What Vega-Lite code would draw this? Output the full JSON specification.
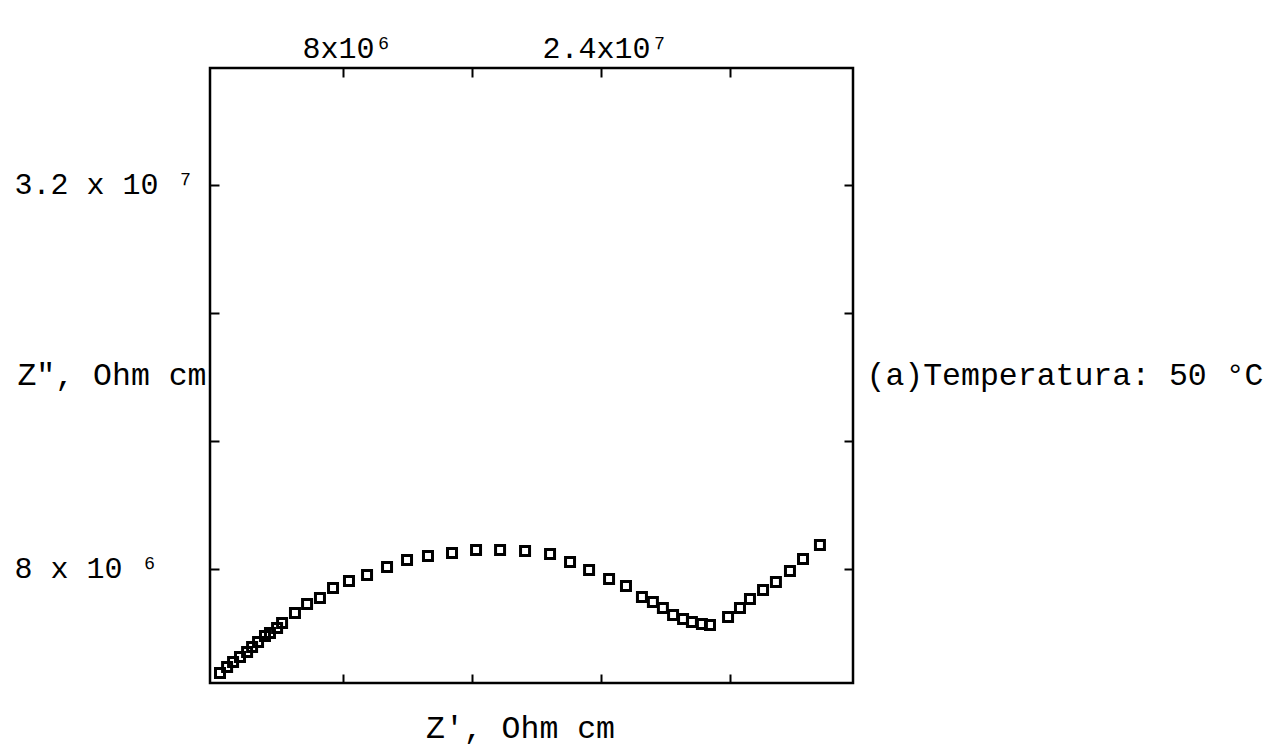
{
  "$schema": "https://vega.github.io/schema/vega-lite/v6.json",
  "width": 643,
  "height": 615,
  "autosize": {"type": "none"},
  "padding": {"left": 210, "top": 68, "right": 417, "bottom": 68},
  "background": "white",
  "config": {
    "font": "Liberation Mono",
    "view": {"stroke": "black", "strokeWidth": 2.5},
    "axis": {
      "domain": false,
      "grid": false,
      "tickColor": "black",
      "tickWidth": 2,
      "tickSize": -9,
      "labelFont": "Liberation Mono",
      "labelFontSize": 30,
      "labelColor": "black",
      "labelLimit": 400,
      "titleFont": "Liberation Mono",
      "titleFontSize": 31.5,
      "titleFontWeight": "normal",
      "titleColor": "black",
      "titleLimit": 600
    }
  },
  "data": {
    "values": [
      {"zr": 370000, "zi": 1500000},
      {"zr": 810000, "zi": 1880000},
      {"zr": 1180000, "zi": 2190000},
      {"zr": 1610000, "zi": 2500000},
      {"zr": 2050000, "zi": 2810000},
      {"zr": 2360000, "zi": 3130000},
      {"zr": 2730000, "zi": 3440000},
      {"zr": 3160000, "zi": 3810000},
      {"zr": 3470000, "zi": 4000000},
      {"zr": 3910000, "zi": 4310000},
      {"zr": 4220000, "zi": 4630000},
      {"zr": 5020000, "zi": 5250000},
      {"zr": 5770000, "zi": 5810000},
      {"zr": 6570000, "zi": 6190000},
      {"zr": 7380000, "zi": 6810000},
      {"zr": 8370000, "zi": 7250000},
      {"zr": 9490000, "zi": 7630000},
      {"zr": 10730000, "zi": 8130000},
      {"zr": 11970000, "zi": 8560000},
      {"zr": 13270000, "zi": 8810000},
      {"zr": 14760000, "zi": 9000000},
      {"zr": 16250000, "zi": 9190000},
      {"zr": 17740000, "zi": 9190000},
      {"zr": 19290000, "zi": 9130000},
      {"zr": 20840000, "zi": 8940000},
      {"zr": 22080000, "zi": 8440000},
      {"zr": 23260000, "zi": 7940000},
      {"zr": 24500000, "zi": 7380000},
      {"zr": 25550000, "zi": 6940000},
      {"zr": 26540000, "zi": 6250000},
      {"zr": 27220000, "zi": 5940000},
      {"zr": 27840000, "zi": 5560000},
      {"zr": 28470000, "zi": 5130000},
      {"zr": 29090000, "zi": 4880000},
      {"zr": 29640000, "zi": 4690000},
      {"zr": 30260000, "zi": 4560000},
      {"zr": 30760000, "zi": 4500000},
      {"zr": 31880000, "zi": 5000000},
      {"zr": 32620000, "zi": 5560000},
      {"zr": 33240000, "zi": 6130000},
      {"zr": 34050000, "zi": 6690000},
      {"zr": 34850000, "zi": 7190000},
      {"zr": 35720000, "zi": 7880000},
      {"zr": 36530000, "zi": 8630000},
      {"zr": 37580000, "zi": 9500000}
    ]
  },
  "layer": [
    {
      "mark": {"type": "point", "shape": "square", "filled": false, "stroke": "black", "strokeWidth": 3, "size": 81, "opacity": 1},
      "encoding": {
        "x": {
          "field": "zr", "type": "quantitative",
          "scale": {"domain": [-250000, 39630000], "nice": false, "zero": false},
          "axis": {
            "orient": "bottom",
            "values": [8000000, 16000000, 24000000, 32000000],
            "labels": false,
            "title": "Z', Ohm cm",
            "titlePadding": 28,
            "titleX": 310
          }
        },
        "y": {
          "field": "zi", "type": "quantitative",
          "scale": {"domain": [875000, 39300000], "nice": false, "zero": false},
          "axis": {
            "orient": "left",
            "values": [8000000, 16000000, 24000000, 32000000],
            "labelExpr": "datum.value == 8000000 ? '8 x 10 ⁶' : (datum.value == 32000000 ? '3.2 x 10 ⁷' : '')",
            "labelAlign": "left",
            "labelPadding": 205,
            "labelBaseline": "middle",
            "title": "Z\", Ohm cm",
            "titleAngle": 0,
            "titleAlign": "right",
            "titleBaseline": "middle",
            "titleX": -4,
            "titleY": 307
          }
        }
      }
    },
    {
      "mark": {"type": "point", "opacity": 0},
      "encoding": {
        "x": {
          "field": "zr", "type": "quantitative",
          "scale": {"domain": [-250000, 39630000], "nice": false, "zero": false},
          "axis": {
            "orient": "top",
            "values": [8000000, 16000000, 24000000, 32000000],
            "labelExpr": "datum.value == 8000000 ? '8x10⁶' : (datum.value == 24000000 ? '2.4x10⁷' : '')",
            "labelPadding": 14,
            "labelOffset": 4,
            "title": null
          }
        },
        "y": {
          "field": "zi", "type": "quantitative",
          "scale": {"domain": [875000, 39300000], "nice": false, "zero": false},
          "axis": {
            "orient": "right",
            "values": [8000000, 16000000, 24000000, 32000000],
            "labels": false,
            "title": "(a)Temperatura: 50 °C",
            "titleAngle": 0,
            "titleAlign": "left",
            "titleBaseline": "middle",
            "titleX": 13,
            "titleY": 307
          }
        }
      }
    }
  ],
  "resolve": {"scale": {"x": "independent", "y": "independent"}, "axis": {"x": "independent", "y": "independent"}}
}
